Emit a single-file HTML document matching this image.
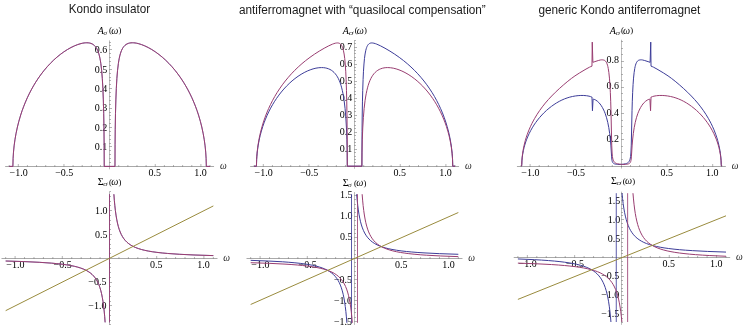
<!DOCTYPE html>
<html><head><meta charset="utf-8"><title>Kondo</title>
<style>html,body{margin:0;padding:0;background:#fff}svg{display:block;will-change:transform}</style></head>
<body>
<svg width="747" height="326" viewBox="0 0 747 326">
<rect width="747" height="326" fill="#fff"/>
<text x="68.8" y="12.9" font-family="'Liberation Sans', sans-serif" font-size="12.2" fill="#1a1a1a" textLength="81.3" lengthAdjust="spacingAndGlyphs">Kondo insulator</text>
<text x="238.9" y="14.2" font-family="'Liberation Sans', sans-serif" font-size="12.0" fill="#1a1a1a" textLength="246.9" lengthAdjust="spacingAndGlyphs">antiferromagnet with “quasilocal compensation”</text>
<text x="538.4" y="14.2" font-family="'Liberation Sans', sans-serif" font-size="12.0" fill="#1a1a1a" textLength="162" lengthAdjust="spacingAndGlyphs">generic Kondo antiferromagnet</text>
<path d="M5.15 166.5L214.05 166.5" stroke="#000" stroke-width="0.34" fill="none"/>
<path d="M9.17 166.5L9.17 165" stroke="#000" stroke-width="0.3" fill="none"/>
<path d="M18.3 166.5L18.3 164" stroke="#000" stroke-width="0.3" fill="none"/>
<text x="18.6" y="176" font-family="'Liberation Serif', serif" font-size="10" text-anchor="middle"  >−1.0</text>
<path d="M27.43 166.5L27.43 165" stroke="#000" stroke-width="0.3" fill="none"/>
<path d="M36.56 166.5L36.56 165" stroke="#000" stroke-width="0.3" fill="none"/>
<path d="M45.69 166.5L45.69 165" stroke="#000" stroke-width="0.3" fill="none"/>
<path d="M54.82 166.5L54.82 165" stroke="#000" stroke-width="0.3" fill="none"/>
<path d="M63.95 166.5L63.95 164" stroke="#000" stroke-width="0.3" fill="none"/>
<text x="64.25" y="176" font-family="'Liberation Serif', serif" font-size="10" text-anchor="middle"  >−0.5</text>
<path d="M73.08 166.5L73.08 165" stroke="#000" stroke-width="0.3" fill="none"/>
<path d="M82.21 166.5L82.21 165" stroke="#000" stroke-width="0.3" fill="none"/>
<path d="M91.34 166.5L91.34 165" stroke="#000" stroke-width="0.3" fill="none"/>
<path d="M100.47 166.5L100.47 165" stroke="#000" stroke-width="0.3" fill="none"/>
<path d="M118.73 166.5L118.73 165" stroke="#000" stroke-width="0.3" fill="none"/>
<path d="M127.86 166.5L127.86 165" stroke="#000" stroke-width="0.3" fill="none"/>
<path d="M136.99 166.5L136.99 165" stroke="#000" stroke-width="0.3" fill="none"/>
<path d="M146.12 166.5L146.12 165" stroke="#000" stroke-width="0.3" fill="none"/>
<path d="M155.25 166.5L155.25 164" stroke="#000" stroke-width="0.3" fill="none"/>
<text x="154.85" y="176" font-family="'Liberation Serif', serif" font-size="10" text-anchor="middle"  >0.5</text>
<path d="M164.38 166.5L164.38 165" stroke="#000" stroke-width="0.3" fill="none"/>
<path d="M173.51 166.5L173.51 165" stroke="#000" stroke-width="0.3" fill="none"/>
<path d="M182.64 166.5L182.64 165" stroke="#000" stroke-width="0.3" fill="none"/>
<path d="M191.77 166.5L191.77 165" stroke="#000" stroke-width="0.3" fill="none"/>
<path d="M200.9 166.5L200.9 164" stroke="#000" stroke-width="0.3" fill="none"/>
<text x="200.5" y="176" font-family="'Liberation Serif', serif" font-size="10" text-anchor="middle"  >1.0</text>
<path d="M210.03 166.5L210.03 165" stroke="#000" stroke-width="0.3" fill="none"/>
<text x="223.25" y="168.7" font-family="'Liberation Serif', serif" font-size="9.5" text-anchor="middle" font-style="italic" style="fill:#222">ω</text>
<path d="M109.5 169.31L109.5 40.36" stroke="#000" stroke-width="0.27" fill="none"/>
<path d="M109.5 162.5L111 162.5" stroke="#000" stroke-width="0.3" fill="none"/>
<path d="M109.5 158.5L111 158.5" stroke="#000" stroke-width="0.3" fill="none"/>
<path d="M109.5 154.5L111 154.5" stroke="#000" stroke-width="0.3" fill="none"/>
<path d="M109.5 150.5L111 150.5" stroke="#000" stroke-width="0.3" fill="none"/>
<path d="M109.5 146.5L112 146.5" stroke="#000" stroke-width="0.3" fill="none"/>
<text x="107.2" y="150.28" font-family="'Liberation Serif', serif" font-size="10" text-anchor="end"  >0.1</text>
<path d="M109.5 143.5L111 143.5" stroke="#000" stroke-width="0.3" fill="none"/>
<path d="M109.5 139.5L111 139.5" stroke="#000" stroke-width="0.3" fill="none"/>
<path d="M109.5 135.5L111 135.5" stroke="#000" stroke-width="0.3" fill="none"/>
<path d="M109.5 131.5L111 131.5" stroke="#000" stroke-width="0.3" fill="none"/>
<path d="M109.5 127.5L112 127.5" stroke="#000" stroke-width="0.3" fill="none"/>
<text x="107.2" y="130.86" font-family="'Liberation Serif', serif" font-size="10" text-anchor="end"  >0.2</text>
<path d="M109.5 123.5L111 123.5" stroke="#000" stroke-width="0.3" fill="none"/>
<path d="M109.5 119.5L111 119.5" stroke="#000" stroke-width="0.3" fill="none"/>
<path d="M109.5 115.5L111 115.5" stroke="#000" stroke-width="0.3" fill="none"/>
<path d="M109.5 112.5L111 112.5" stroke="#000" stroke-width="0.3" fill="none"/>
<path d="M109.5 108.5L112 108.5" stroke="#000" stroke-width="0.3" fill="none"/>
<text x="107.2" y="111.44" font-family="'Liberation Serif', serif" font-size="10" text-anchor="end"  >0.3</text>
<path d="M109.5 104.5L111 104.5" stroke="#000" stroke-width="0.3" fill="none"/>
<path d="M109.5 100.5L111 100.5" stroke="#000" stroke-width="0.3" fill="none"/>
<path d="M109.5 96.5L111 96.5" stroke="#000" stroke-width="0.3" fill="none"/>
<path d="M109.5 92.5L111 92.5" stroke="#000" stroke-width="0.3" fill="none"/>
<path d="M109.5 88.5L112 88.5" stroke="#000" stroke-width="0.3" fill="none"/>
<text x="107.2" y="92.02" font-family="'Liberation Serif', serif" font-size="10" text-anchor="end"  >0.4</text>
<path d="M109.5 84.5L111 84.5" stroke="#000" stroke-width="0.3" fill="none"/>
<path d="M109.5 80.5L111 80.5" stroke="#000" stroke-width="0.3" fill="none"/>
<path d="M109.5 77.5L111 77.5" stroke="#000" stroke-width="0.3" fill="none"/>
<path d="M109.5 73.5L111 73.5" stroke="#000" stroke-width="0.3" fill="none"/>
<path d="M109.5 69.5L112 69.5" stroke="#000" stroke-width="0.3" fill="none"/>
<text x="107.2" y="72.6" font-family="'Liberation Serif', serif" font-size="10" text-anchor="end"  >0.5</text>
<path d="M109.5 65.5L111 65.5" stroke="#000" stroke-width="0.3" fill="none"/>
<path d="M109.5 61.5L111 61.5" stroke="#000" stroke-width="0.3" fill="none"/>
<path d="M109.5 57.5L111 57.5" stroke="#000" stroke-width="0.3" fill="none"/>
<path d="M109.5 53.5L111 53.5" stroke="#000" stroke-width="0.3" fill="none"/>
<path d="M109.5 49.5L112 49.5" stroke="#000" stroke-width="0.3" fill="none"/>
<text x="107.2" y="53.18" font-family="'Liberation Serif', serif" font-size="10" text-anchor="end"  >0.6</text>
<path d="M109.5 45.5L111 45.5" stroke="#000" stroke-width="0.3" fill="none"/>
<path d="M109.5 42.5L111 42.5" stroke="#000" stroke-width="0.3" fill="none"/>
<text x="97.85" y="33.5" font-family="'Liberation Serif', serif" font-size="10" font-style="italic">A</text>
<text transform="translate(103.5 34.6) scale(1.15 1)" font-family="'Liberation Serif', serif" font-size="6.2" font-style="italic" style="fill:#333">σ</text>
<text x="109.1" y="33.1" font-family="'Liberation Serif', serif" font-size="8.7">(</text>
<text x="111.2" y="33.5" font-family="'Liberation Serif', serif" font-size="10" font-style="italic">ω</text>
<text x="118.5" y="33.1" font-family="'Liberation Serif', serif" font-size="8.7">)</text>
<path d="M9.17 166.4L12.88 166.4L13.08 158.63L13.49 152.07L14.11 145.86L14.94 139.79L15.97 133.81L17.41 127.01L18.85 121.31L20.7 115L22.14 110.67L23.79 106.18L25.44 102.08L27.29 97.84L29.15 93.95L31.21 89.95L33.47 85.89L35.74 82.14L38.41 78.05L41.3 74.02L44.18 70.32L47.27 66.68L50.36 63.36L53.65 60.11L56.95 57.16L60.24 54.49L63.74 51.93L67.45 49.53L70.95 47.56L74.45 45.87L77.75 44.56L81.04 43.56L82.69 43.19L84.13 42.95L85.57 42.81L86.81 42.77L88.25 42.84L89.69 43.06L90.93 43.4L92.19 43.94L93.29 44.59L94.29 45.4L95.24 46.38L96.09 47.52L96.88 48.84L97.58 50.28L98.25 51.97L98.86 53.85L99.41 55.9L99.93 58.22L100.42 60.86L100.84 63.62L101.64 70.31L102.31 78.39L102.88 88.43L103.34 99.91L103.71 113.45L103.98 129.28L104.13 144.25L104.22 166.4L114.98 166.4L115.07 144.25L115.22 129.28L115.49 113.45L115.86 99.91L116.32 88.43L116.89 78.39L117.56 70.31L118.36 63.62L118.78 60.86L119.27 58.22L119.79 55.9L120.34 53.85L120.95 51.97L121.62 50.28L122.32 48.84L123.11 47.52L123.96 46.38L124.91 45.4L125.91 44.59L127.01 43.94L128.27 43.4L129.51 43.06L130.95 42.84L132.39 42.77L133.63 42.81L135.07 42.95L136.51 43.19L138.16 43.56L141.45 44.56L144.75 45.87L148.25 47.56L151.75 49.53L155.46 51.93L158.96 54.49L162.25 57.16L165.55 60.11L168.84 63.36L171.93 66.68L175.02 70.32L177.9 74.02L180.79 78.05L183.46 82.14L185.73 85.89L187.99 89.95L190.05 93.95L191.91 97.84L193.76 102.08L195.41 106.18L197.06 110.67L198.5 115L200.35 121.31L201.79 127.01L203.23 133.81L204.26 139.79L205.09 145.86L205.71 152.07L206.12 158.63L206.32 166.4L210.03 166.4" fill="none" stroke="#3D3D99" stroke-width="0.6" stroke-linejoin="round" />
<path d="M9.17 166.4L12.88 166.4L13.08 158.63L13.49 152.07L14.11 145.86L14.94 139.79L15.97 133.81L17.41 127.01L18.85 121.31L20.7 115L22.14 110.67L23.79 106.18L25.44 102.08L27.29 97.84L29.15 93.95L31.21 89.95L33.47 85.89L35.74 82.14L38.41 78.05L41.3 74.02L44.18 70.32L47.27 66.68L50.36 63.36L53.65 60.11L56.95 57.16L60.24 54.49L63.74 51.93L67.45 49.53L70.95 47.56L74.45 45.87L77.75 44.56L81.04 43.56L82.69 43.19L84.13 42.95L85.57 42.81L86.81 42.77L88.25 42.84L89.69 43.06L90.93 43.4L92.19 43.94L93.29 44.59L94.29 45.4L95.24 46.38L96.09 47.52L96.88 48.84L97.58 50.28L98.25 51.97L98.86 53.85L99.41 55.9L99.93 58.22L100.42 60.86L100.84 63.62L101.64 70.31L102.31 78.39L102.88 88.43L103.34 99.91L103.71 113.45L103.98 129.28L104.13 144.25L104.22 166.4L114.98 166.4L115.07 144.25L115.22 129.28L115.49 113.45L115.86 99.91L116.32 88.43L116.89 78.39L117.56 70.31L118.36 63.62L118.78 60.86L119.27 58.22L119.79 55.9L120.34 53.85L120.95 51.97L121.62 50.28L122.32 48.84L123.11 47.52L123.96 46.38L124.91 45.4L125.91 44.59L127.01 43.94L128.27 43.4L129.51 43.06L130.95 42.84L132.39 42.77L133.63 42.81L135.07 42.95L136.51 43.19L138.16 43.56L141.45 44.56L144.75 45.87L148.25 47.56L151.75 49.53L155.46 51.93L158.96 54.49L162.25 57.16L165.55 60.11L168.84 63.36L171.93 66.68L175.02 70.32L177.9 74.02L180.79 78.05L183.46 82.14L185.73 85.89L187.99 89.95L190.05 93.95L191.91 97.84L193.76 102.08L195.41 106.18L197.06 110.67L198.5 115L200.35 121.31L201.79 127.01L203.23 133.81L204.26 139.79L205.09 145.86L205.71 152.07L206.12 158.63L206.32 166.4L210.03 166.4" fill="none" stroke="#993D71" stroke-width="1.0" stroke-linejoin="round" />
<path d="M1.51 258.5L217.49 258.5" stroke="#000" stroke-width="0.34" fill="none"/>
<path d="M5.66 258.5L5.66 257" stroke="#000" stroke-width="0.3" fill="none"/>
<path d="M15.1 258.5L15.1 256" stroke="#000" stroke-width="0.3" fill="none"/>
<text x="15.4" y="268" font-family="'Liberation Serif', serif" font-size="10" text-anchor="middle"  >−1.0</text>
<path d="M24.54 258.5L24.54 257" stroke="#000" stroke-width="0.3" fill="none"/>
<path d="M33.98 258.5L33.98 257" stroke="#000" stroke-width="0.3" fill="none"/>
<path d="M43.42 258.5L43.42 257" stroke="#000" stroke-width="0.3" fill="none"/>
<path d="M52.86 258.5L52.86 257" stroke="#000" stroke-width="0.3" fill="none"/>
<path d="M62.3 258.5L62.3 256" stroke="#000" stroke-width="0.3" fill="none"/>
<text x="62.6" y="268" font-family="'Liberation Serif', serif" font-size="10" text-anchor="middle"  >−0.5</text>
<path d="M71.74 258.5L71.74 257" stroke="#000" stroke-width="0.3" fill="none"/>
<path d="M81.18 258.5L81.18 257" stroke="#000" stroke-width="0.3" fill="none"/>
<path d="M90.62 258.5L90.62 257" stroke="#000" stroke-width="0.3" fill="none"/>
<path d="M100.06 258.5L100.06 257" stroke="#000" stroke-width="0.3" fill="none"/>
<path d="M118.94 258.5L118.94 257" stroke="#000" stroke-width="0.3" fill="none"/>
<path d="M128.38 258.5L128.38 257" stroke="#000" stroke-width="0.3" fill="none"/>
<path d="M137.82 258.5L137.82 257" stroke="#000" stroke-width="0.3" fill="none"/>
<path d="M147.26 258.5L147.26 257" stroke="#000" stroke-width="0.3" fill="none"/>
<path d="M156.7 258.5L156.7 256" stroke="#000" stroke-width="0.3" fill="none"/>
<text x="156.3" y="268" font-family="'Liberation Serif', serif" font-size="10" text-anchor="middle"  >0.5</text>
<path d="M166.14 258.5L166.14 257" stroke="#000" stroke-width="0.3" fill="none"/>
<path d="M175.58 258.5L175.58 257" stroke="#000" stroke-width="0.3" fill="none"/>
<path d="M185.02 258.5L185.02 257" stroke="#000" stroke-width="0.3" fill="none"/>
<path d="M194.46 258.5L194.46 257" stroke="#000" stroke-width="0.3" fill="none"/>
<path d="M203.9 258.5L203.9 256" stroke="#000" stroke-width="0.3" fill="none"/>
<text x="203.5" y="268" font-family="'Liberation Serif', serif" font-size="10" text-anchor="middle"  >1.0</text>
<path d="M213.34 258.5L213.34 257" stroke="#000" stroke-width="0.3" fill="none"/>
<text x="226.69" y="260.7" font-family="'Liberation Serif', serif" font-size="9.5" text-anchor="middle" font-style="italic" style="fill:#222">ω</text>
<path d="M109.5 324.94L109.5 191.66" stroke="#000" stroke-width="0.27" fill="none"/>
<path d="M109.5 324.5L111 324.5" stroke="#000" stroke-width="0.3" fill="none"/>
<path d="M109.5 320.5L111 320.5" stroke="#000" stroke-width="0.3" fill="none"/>
<path d="M109.5 315.5L111 315.5" stroke="#000" stroke-width="0.3" fill="none"/>
<path d="M109.5 310.5L111 310.5" stroke="#000" stroke-width="0.3" fill="none"/>
<path d="M109.5 305.5L112 305.5" stroke="#000" stroke-width="0.3" fill="none"/>
<text x="106.4" y="308.9" font-family="'Liberation Serif', serif" font-size="10" text-anchor="end"  >−1.0</text>
<path d="M109.5 301.5L111 301.5" stroke="#000" stroke-width="0.3" fill="none"/>
<path d="M109.5 296.5L111 296.5" stroke="#000" stroke-width="0.3" fill="none"/>
<path d="M109.5 291.5L111 291.5" stroke="#000" stroke-width="0.3" fill="none"/>
<path d="M109.5 286.5L111 286.5" stroke="#000" stroke-width="0.3" fill="none"/>
<path d="M109.5 282.5L112 282.5" stroke="#000" stroke-width="0.3" fill="none"/>
<text x="106.4" y="285.1" font-family="'Liberation Serif', serif" font-size="10" text-anchor="end"  >−0.5</text>
<path d="M109.5 277.5L111 277.5" stroke="#000" stroke-width="0.3" fill="none"/>
<path d="M109.5 272.5L111 272.5" stroke="#000" stroke-width="0.3" fill="none"/>
<path d="M109.5 267.5L111 267.5" stroke="#000" stroke-width="0.3" fill="none"/>
<path d="M109.5 263.5L111 263.5" stroke="#000" stroke-width="0.3" fill="none"/>
<path d="M109.5 253.5L111 253.5" stroke="#000" stroke-width="0.3" fill="none"/>
<path d="M109.5 248.5L111 248.5" stroke="#000" stroke-width="0.3" fill="none"/>
<path d="M109.5 244.5L111 244.5" stroke="#000" stroke-width="0.3" fill="none"/>
<path d="M109.5 239.5L111 239.5" stroke="#000" stroke-width="0.3" fill="none"/>
<path d="M109.5 234.5L112 234.5" stroke="#000" stroke-width="0.3" fill="none"/>
<text x="107.4" y="237.5" font-family="'Liberation Serif', serif" font-size="10" text-anchor="end"  >0.5</text>
<path d="M109.5 229.5L111 229.5" stroke="#000" stroke-width="0.3" fill="none"/>
<path d="M109.5 224.5L111 224.5" stroke="#000" stroke-width="0.3" fill="none"/>
<path d="M109.5 220.5L111 220.5" stroke="#000" stroke-width="0.3" fill="none"/>
<path d="M109.5 215.5L111 215.5" stroke="#000" stroke-width="0.3" fill="none"/>
<path d="M109.5 210.5L112 210.5" stroke="#000" stroke-width="0.3" fill="none"/>
<text x="107.4" y="213.7" font-family="'Liberation Serif', serif" font-size="10" text-anchor="end"  >1.0</text>
<path d="M109.5 205.5L111 205.5" stroke="#000" stroke-width="0.3" fill="none"/>
<path d="M109.5 201.5L111 201.5" stroke="#000" stroke-width="0.3" fill="none"/>
<path d="M109.5 196.5L111 196.5" stroke="#000" stroke-width="0.3" fill="none"/>
<path d="M109.5 191.5L111 191.5" stroke="#000" stroke-width="0.3" fill="none"/>
<text x="97.8" y="185.2" font-family="'Liberation Serif', serif" font-size="10">Σ</text>
<text transform="translate(103 186.3) scale(1.55 1)" font-family="'Liberation Serif', serif" font-size="6.2" font-style="italic" style="fill:#333">σ</text>
<text x="109.1" y="184.8" font-family="'Liberation Serif', serif" font-size="8.7">(</text>
<text x="111.2" y="185.2" font-family="'Liberation Serif', serif" font-size="10" font-style="italic">ω</text>
<text x="118.5" y="184.8" font-family="'Liberation Serif', serif" font-size="8.7">)</text>
<path d="M5.66 261L23.97 261.58L39.22 262.3L51.43 263.14L56.77 263.63L62.11 264.23L66.69 264.86L70.5 265.5L74.31 266.28L77.37 267.04L80.42 267.96L83.31 269.02L85.86 270.18L88.17 271.47L90.19 272.84L92 274.35L93.64 276.01L95.14 277.85L96.48 279.87L97.71 282.11L98.82 284.6L99.82 287.31L100.73 290.31L101.56 293.66L102.31 297.38L102.99 301.46L103.62 306.04L104.16 310.94L104.66 316.27L105.12 322.37" fill="none" stroke="#3D3D99" stroke-width="0.6" stroke-linejoin="round" />
<path d="M113.88 194.23L114.34 200.33L114.84 205.66L115.38 210.56L116.01 215.14L116.69 219.22L117.44 222.94L118.27 226.29L119.18 229.29L120.18 232L121.29 234.49L122.52 236.73L123.86 238.75L125.36 240.59L127 242.25L128.81 243.76L130.83 245.13L133.14 246.42L135.69 247.58L138.58 248.64L141.63 249.56L144.69 250.32L148.5 251.1L152.31 251.74L156.89 252.37L162.23 252.97L167.57 253.46L179.78 254.3L195.03 255.02L213.34 255.6" fill="none" stroke="#3D3D99" stroke-width="0.6" stroke-linejoin="round" />
<path d="M109.5 322.37L109.5 194.23" fill="none" stroke="#3D3D99" stroke-width="0.51" stroke-linejoin="round" />
<path d="M5.66 261L23.97 261.58L39.22 262.3L51.43 263.14L56.77 263.63L62.11 264.23L66.69 264.86L70.5 265.5L74.31 266.28L77.37 267.04L80.42 267.96L83.31 269.02L85.86 270.18L88.17 271.47L90.19 272.84L92 274.35L93.64 276.01L95.14 277.85L96.48 279.87L97.71 282.11L98.82 284.6L99.82 287.31L100.73 290.31L101.56 293.66L102.31 297.38L102.99 301.46L103.62 306.04L104.16 310.94L104.66 316.27L105.12 322.37" fill="none" stroke="#993D71" stroke-width="1.0" stroke-linejoin="round" />
<path d="M113.88 194.23L114.34 200.33L114.84 205.66L115.38 210.56L116.01 215.14L116.69 219.22L117.44 222.94L118.27 226.29L119.18 229.29L120.18 232L121.29 234.49L122.52 236.73L123.86 238.75L125.36 240.59L127 242.25L128.81 243.76L130.83 245.13L133.14 246.42L135.69 247.58L138.58 248.64L141.63 249.56L144.69 250.32L148.5 251.1L152.31 251.74L156.89 252.37L162.23 252.97L167.57 253.46L179.78 254.3L195.03 255.02L213.34 255.6" fill="none" stroke="#993D71" stroke-width="1.0" stroke-linejoin="round" />
<path d="M109.5 322.37L109.5 194.23" fill="none" stroke="#993D71" stroke-width="0.85" stroke-linejoin="round" />
<path d="M5.66 310.66L213.34 205.94" fill="none" stroke="#998B3D" stroke-width="1.0" stroke-linejoin="round" />
<path d="M250.15 166.5L459.05 166.5" stroke="#000" stroke-width="0.34" fill="none"/>
<path d="M254.17 166.5L254.17 165" stroke="#000" stroke-width="0.3" fill="none"/>
<path d="M263.3 166.5L263.3 164" stroke="#000" stroke-width="0.3" fill="none"/>
<text x="263.6" y="176" font-family="'Liberation Serif', serif" font-size="10" text-anchor="middle"  >−1.0</text>
<path d="M272.43 166.5L272.43 165" stroke="#000" stroke-width="0.3" fill="none"/>
<path d="M281.56 166.5L281.56 165" stroke="#000" stroke-width="0.3" fill="none"/>
<path d="M290.69 166.5L290.69 165" stroke="#000" stroke-width="0.3" fill="none"/>
<path d="M299.82 166.5L299.82 165" stroke="#000" stroke-width="0.3" fill="none"/>
<path d="M308.95 166.5L308.95 164" stroke="#000" stroke-width="0.3" fill="none"/>
<text x="309.25" y="176" font-family="'Liberation Serif', serif" font-size="10" text-anchor="middle"  >−0.5</text>
<path d="M318.08 166.5L318.08 165" stroke="#000" stroke-width="0.3" fill="none"/>
<path d="M327.21 166.5L327.21 165" stroke="#000" stroke-width="0.3" fill="none"/>
<path d="M336.34 166.5L336.34 165" stroke="#000" stroke-width="0.3" fill="none"/>
<path d="M345.47 166.5L345.47 165" stroke="#000" stroke-width="0.3" fill="none"/>
<path d="M363.73 166.5L363.73 165" stroke="#000" stroke-width="0.3" fill="none"/>
<path d="M372.86 166.5L372.86 165" stroke="#000" stroke-width="0.3" fill="none"/>
<path d="M381.99 166.5L381.99 165" stroke="#000" stroke-width="0.3" fill="none"/>
<path d="M391.12 166.5L391.12 165" stroke="#000" stroke-width="0.3" fill="none"/>
<path d="M400.25 166.5L400.25 164" stroke="#000" stroke-width="0.3" fill="none"/>
<text x="399.85" y="176" font-family="'Liberation Serif', serif" font-size="10" text-anchor="middle"  >0.5</text>
<path d="M409.38 166.5L409.38 165" stroke="#000" stroke-width="0.3" fill="none"/>
<path d="M418.51 166.5L418.51 165" stroke="#000" stroke-width="0.3" fill="none"/>
<path d="M427.64 166.5L427.64 165" stroke="#000" stroke-width="0.3" fill="none"/>
<path d="M436.77 166.5L436.77 165" stroke="#000" stroke-width="0.3" fill="none"/>
<path d="M445.9 166.5L445.9 164" stroke="#000" stroke-width="0.3" fill="none"/>
<text x="445.5" y="176" font-family="'Liberation Serif', serif" font-size="10" text-anchor="middle"  >1.0</text>
<path d="M455.03 166.5L455.03 165" stroke="#000" stroke-width="0.3" fill="none"/>
<text x="468.25" y="168.7" font-family="'Liberation Serif', serif" font-size="9.5" text-anchor="middle" font-style="italic" style="fill:#222">ω</text>
<path d="M354.5 168.75L354.5 40.3" stroke="#000" stroke-width="0.27" fill="none"/>
<path d="M354.5 162.5L356 162.5" stroke="#000" stroke-width="0.3" fill="none"/>
<path d="M354.5 159.5L356 159.5" stroke="#000" stroke-width="0.3" fill="none"/>
<path d="M354.5 156.5L356 156.5" stroke="#000" stroke-width="0.3" fill="none"/>
<path d="M354.5 152.5L356 152.5" stroke="#000" stroke-width="0.3" fill="none"/>
<path d="M354.5 149.5L357 149.5" stroke="#000" stroke-width="0.3" fill="none"/>
<text x="352.2" y="151.9" font-family="'Liberation Serif', serif" font-size="10" text-anchor="end"  >0.1</text>
<path d="M354.5 145.5L356 145.5" stroke="#000" stroke-width="0.3" fill="none"/>
<path d="M354.5 142.5L356 142.5" stroke="#000" stroke-width="0.3" fill="none"/>
<path d="M354.5 139.5L356 139.5" stroke="#000" stroke-width="0.3" fill="none"/>
<path d="M354.5 135.5L356 135.5" stroke="#000" stroke-width="0.3" fill="none"/>
<path d="M354.5 132.5L357 132.5" stroke="#000" stroke-width="0.3" fill="none"/>
<text x="352.2" y="134.9" font-family="'Liberation Serif', serif" font-size="10" text-anchor="end"  >0.2</text>
<path d="M354.5 128.5L356 128.5" stroke="#000" stroke-width="0.3" fill="none"/>
<path d="M354.5 125.5L356 125.5" stroke="#000" stroke-width="0.3" fill="none"/>
<path d="M354.5 121.5L356 121.5" stroke="#000" stroke-width="0.3" fill="none"/>
<path d="M354.5 118.5L356 118.5" stroke="#000" stroke-width="0.3" fill="none"/>
<path d="M354.5 115.5L357 115.5" stroke="#000" stroke-width="0.3" fill="none"/>
<text x="352.2" y="117.9" font-family="'Liberation Serif', serif" font-size="10" text-anchor="end"  >0.3</text>
<path d="M354.5 111.5L356 111.5" stroke="#000" stroke-width="0.3" fill="none"/>
<path d="M354.5 108.5L356 108.5" stroke="#000" stroke-width="0.3" fill="none"/>
<path d="M354.5 105.5L356 105.5" stroke="#000" stroke-width="0.3" fill="none"/>
<path d="M354.5 101.5L356 101.5" stroke="#000" stroke-width="0.3" fill="none"/>
<path d="M354.5 98.5L357 98.5" stroke="#000" stroke-width="0.3" fill="none"/>
<text x="352.2" y="100.9" font-family="'Liberation Serif', serif" font-size="10" text-anchor="end"  >0.4</text>
<path d="M354.5 94.5L356 94.5" stroke="#000" stroke-width="0.3" fill="none"/>
<path d="M354.5 91.5L356 91.5" stroke="#000" stroke-width="0.3" fill="none"/>
<path d="M354.5 87.5L356 87.5" stroke="#000" stroke-width="0.3" fill="none"/>
<path d="M354.5 84.5L356 84.5" stroke="#000" stroke-width="0.3" fill="none"/>
<path d="M354.5 81.5L357 81.5" stroke="#000" stroke-width="0.3" fill="none"/>
<text x="352.2" y="83.9" font-family="'Liberation Serif', serif" font-size="10" text-anchor="end"  >0.5</text>
<path d="M354.5 77.5L356 77.5" stroke="#000" stroke-width="0.3" fill="none"/>
<path d="M354.5 74.5L356 74.5" stroke="#000" stroke-width="0.3" fill="none"/>
<path d="M354.5 70.5L356 70.5" stroke="#000" stroke-width="0.3" fill="none"/>
<path d="M354.5 67.5L356 67.5" stroke="#000" stroke-width="0.3" fill="none"/>
<path d="M354.5 64.5L357 64.5" stroke="#000" stroke-width="0.3" fill="none"/>
<text x="352.2" y="66.9" font-family="'Liberation Serif', serif" font-size="10" text-anchor="end"  >0.6</text>
<path d="M354.5 60.5L356 60.5" stroke="#000" stroke-width="0.3" fill="none"/>
<path d="M354.5 57.5L356 57.5" stroke="#000" stroke-width="0.3" fill="none"/>
<path d="M354.5 53.5L356 53.5" stroke="#000" stroke-width="0.3" fill="none"/>
<path d="M354.5 50.5L356 50.5" stroke="#000" stroke-width="0.3" fill="none"/>
<path d="M354.5 47.5L357 47.5" stroke="#000" stroke-width="0.3" fill="none"/>
<text x="352.2" y="49.9" font-family="'Liberation Serif', serif" font-size="10" text-anchor="end"  >0.7</text>
<path d="M354.5 43.5L356 43.5" stroke="#000" stroke-width="0.3" fill="none"/>
<path d="M354.5 40.5L356 40.5" stroke="#000" stroke-width="0.3" fill="none"/>
<text x="342.85" y="33.5" font-family="'Liberation Serif', serif" font-size="10" font-style="italic">A</text>
<text transform="translate(348.5 34.6) scale(1.7 1)" font-family="'Liberation Serif', serif" font-size="6.2" font-style="italic" style="fill:#333">σ</text>
<text x="354.7" y="33.1" font-family="'Liberation Serif', serif" font-size="8.7">(</text>
<text x="356.8" y="33.5" font-family="'Liberation Serif', serif" font-size="10" font-style="italic">ω</text>
<text x="364.1" y="33.1" font-family="'Liberation Serif', serif" font-size="8.7">)</text>
<path d="M254.17 166.2L256.44 166.2L256.64 159.73L256.85 156.45L257.26 152.01L258.08 145.9L259.11 140.26L260.14 135.7L261.38 131.06L262.82 126.39L264.06 122.84L265.5 119.11L267.14 115.25L268.79 111.74L270.65 108.12L272.5 104.81L274.35 101.75L276.41 98.61L278.88 95.14L281.35 91.97L283.83 89.06L286.5 86.17L289.18 83.52L292.06 80.92L294.95 78.57L298.04 76.31L301.12 74.31L304.21 72.55L307.3 71.03L310.19 69.85L313.07 68.89L315.95 68.17L318.84 67.72L321.51 67.58L323.37 67.65L325.22 67.89L326.87 68.26L328.51 68.8L329.96 69.44L331.4 70.27L332.84 71.33L334.07 72.44L335.31 73.8L336.4 75.24L337.44 76.86L338.41 78.67L339.32 80.67L340.18 82.87L340.97 85.27L341.7 87.86L342.37 90.64L343.01 93.74L343.59 97.02L344.14 100.66L345.08 108.67L345.84 117.68L346.45 127.98L346.91 139.77L347.18 152.17L347.31 166.2L361.89 166.2L362.05 131.69L362.2 116.99L362.44 101.88L362.72 90.33L363.08 79.52L363.48 71.24L363.97 63.99L364.48 58.53L365.09 53.99L365.82 50.26L366.22 48.78L366.65 47.49L367.1 46.39L367.62 45.42L368.17 44.64L368.75 44.03L369.39 43.55L370.12 43.2L370.91 43L371.79 42.93L372.77 43L373.89 43.21L375.33 43.63L376.77 44.17L380.48 45.84L385.01 48.24L389.95 51.13L394.69 54.17L399.22 57.33L403.55 60.62L407.25 63.67L410.96 66.97L414.46 70.35L417.75 73.78L420.84 77.25L423.93 80.99L426.82 84.78L429.7 88.88L432.17 92.7L434.44 96.48L436.7 100.57L438.76 104.63L440.61 108.6L442.47 112.96L444.12 117.23L445.76 121.99L447.2 126.7L448.65 132.14L449.88 137.69L450.91 143.38L451.53 147.66L452.15 153.32L452.56 159.36L452.76 166.2L455.03 166.2" fill="none" stroke="#3D3D99" stroke-width="1.0" stroke-linejoin="round" />
<path d="M254.17 166.2L256.44 166.2L256.64 159.36L257.05 153.32L257.67 147.66L258.29 143.38L259.32 137.69L260.55 132.14L262 126.7L263.44 121.99L265.08 117.23L266.73 112.96L268.59 108.6L270.44 104.63L272.5 100.57L274.76 96.48L277.03 92.7L279.5 88.88L282.38 84.78L285.27 80.99L288.36 77.25L291.45 73.78L294.74 70.35L298.24 66.97L301.95 63.67L305.65 60.62L309.98 57.33L314.51 54.17L319.25 51.13L324.19 48.24L328.72 45.84L332.43 44.17L333.87 43.63L335.31 43.21L336.43 43L337.41 42.93L338.29 43L339.08 43.2L339.81 43.55L340.45 44.03L341.03 44.64L341.58 45.42L342.1 46.39L342.55 47.49L342.98 48.78L343.38 50.26L344.11 53.99L344.72 58.53L345.23 63.99L345.72 71.24L346.12 79.52L346.48 90.33L346.76 101.88L347 116.99L347.15 131.69L347.31 166.2L361.89 166.2L362.02 152.17L362.29 139.77L362.75 127.98L363.36 117.68L364.12 108.67L365.06 100.66L365.61 97.02L366.19 93.74L366.83 90.64L367.5 87.86L368.23 85.27L369.02 82.87L369.88 80.67L370.79 78.67L371.76 76.86L372.8 75.24L373.89 73.8L375.13 72.44L376.36 71.33L377.8 70.27L379.24 69.44L380.69 68.8L382.33 68.26L383.98 67.89L385.83 67.65L387.69 67.58L390.36 67.72L393.25 68.17L396.13 68.89L399.01 69.85L401.9 71.03L404.99 72.55L408.08 74.31L411.16 76.31L414.25 78.57L417.14 80.92L420.02 83.52L422.7 86.17L425.37 89.06L427.85 91.97L430.32 95.14L432.79 98.61L434.85 101.75L436.7 104.81L438.55 108.12L440.41 111.74L442.06 115.25L443.7 119.11L445.14 122.84L446.38 126.39L447.82 131.06L449.06 135.7L450.09 140.26L451.12 145.9L451.94 152.01L452.35 156.45L452.56 159.73L452.76 166.2L455.03 166.2" fill="none" stroke="#993D71" stroke-width="1.0" stroke-linejoin="round" />
<path d="M246.51 258.5L462.49 258.5" stroke="#000" stroke-width="0.34" fill="none"/>
<path d="M250.66 258.5L250.66 257" stroke="#000" stroke-width="0.3" fill="none"/>
<path d="M260.1 258.5L260.1 256" stroke="#000" stroke-width="0.3" fill="none"/>
<text x="260.4" y="268" font-family="'Liberation Serif', serif" font-size="10" text-anchor="middle"  >−1.0</text>
<path d="M269.54 258.5L269.54 257" stroke="#000" stroke-width="0.3" fill="none"/>
<path d="M278.98 258.5L278.98 257" stroke="#000" stroke-width="0.3" fill="none"/>
<path d="M288.42 258.5L288.42 257" stroke="#000" stroke-width="0.3" fill="none"/>
<path d="M297.86 258.5L297.86 257" stroke="#000" stroke-width="0.3" fill="none"/>
<path d="M307.3 258.5L307.3 256" stroke="#000" stroke-width="0.3" fill="none"/>
<text x="307.6" y="268" font-family="'Liberation Serif', serif" font-size="10" text-anchor="middle"  >−0.5</text>
<path d="M316.74 258.5L316.74 257" stroke="#000" stroke-width="0.3" fill="none"/>
<path d="M326.18 258.5L326.18 257" stroke="#000" stroke-width="0.3" fill="none"/>
<path d="M335.62 258.5L335.62 257" stroke="#000" stroke-width="0.3" fill="none"/>
<path d="M345.06 258.5L345.06 257" stroke="#000" stroke-width="0.3" fill="none"/>
<path d="M363.94 258.5L363.94 257" stroke="#000" stroke-width="0.3" fill="none"/>
<path d="M373.38 258.5L373.38 257" stroke="#000" stroke-width="0.3" fill="none"/>
<path d="M382.82 258.5L382.82 257" stroke="#000" stroke-width="0.3" fill="none"/>
<path d="M392.26 258.5L392.26 257" stroke="#000" stroke-width="0.3" fill="none"/>
<path d="M401.7 258.5L401.7 256" stroke="#000" stroke-width="0.3" fill="none"/>
<text x="401.3" y="268" font-family="'Liberation Serif', serif" font-size="10" text-anchor="middle"  >0.5</text>
<path d="M411.14 258.5L411.14 257" stroke="#000" stroke-width="0.3" fill="none"/>
<path d="M420.58 258.5L420.58 257" stroke="#000" stroke-width="0.3" fill="none"/>
<path d="M430.02 258.5L430.02 257" stroke="#000" stroke-width="0.3" fill="none"/>
<path d="M439.46 258.5L439.46 257" stroke="#000" stroke-width="0.3" fill="none"/>
<path d="M448.9 258.5L448.9 256" stroke="#000" stroke-width="0.3" fill="none"/>
<text x="448.5" y="268" font-family="'Liberation Serif', serif" font-size="10" text-anchor="middle"  >1.0</text>
<path d="M458.34 258.5L458.34 257" stroke="#000" stroke-width="0.3" fill="none"/>
<text x="471.69" y="260.7" font-family="'Liberation Serif', serif" font-size="9.5" text-anchor="middle" font-style="italic" style="fill:#222">ω</text>
<path d="M354.5 324.88L354.5 192.12" stroke="#000" stroke-width="0.27" fill="none"/>
<path d="M354.5 321.5L357 321.5" stroke="#000" stroke-width="0.3" fill="none"/>
<text x="352.1" y="324.5" font-family="'Liberation Serif', serif" font-size="10" text-anchor="end"  >−1.5</text>
<path d="M354.5 317.5L356 317.5" stroke="#000" stroke-width="0.3" fill="none"/>
<path d="M354.5 312.5L356 312.5" stroke="#000" stroke-width="0.3" fill="none"/>
<path d="M354.5 308.5L356 308.5" stroke="#000" stroke-width="0.3" fill="none"/>
<path d="M354.5 304.5L356 304.5" stroke="#000" stroke-width="0.3" fill="none"/>
<path d="M354.5 300.5L357 300.5" stroke="#000" stroke-width="0.3" fill="none"/>
<text x="352.1" y="303.6" font-family="'Liberation Serif', serif" font-size="10" text-anchor="end"  >−1.0</text>
<path d="M354.5 296.5L356 296.5" stroke="#000" stroke-width="0.3" fill="none"/>
<path d="M354.5 291.5L356 291.5" stroke="#000" stroke-width="0.3" fill="none"/>
<path d="M354.5 287.5L356 287.5" stroke="#000" stroke-width="0.3" fill="none"/>
<path d="M354.5 283.5L356 283.5" stroke="#000" stroke-width="0.3" fill="none"/>
<path d="M354.5 279.5L357 279.5" stroke="#000" stroke-width="0.3" fill="none"/>
<text x="352.1" y="282.7" font-family="'Liberation Serif', serif" font-size="10" text-anchor="end"  >−0.5</text>
<path d="M354.5 275.5L356 275.5" stroke="#000" stroke-width="0.3" fill="none"/>
<path d="M354.5 271.5L356 271.5" stroke="#000" stroke-width="0.3" fill="none"/>
<path d="M354.5 266.5L356 266.5" stroke="#000" stroke-width="0.3" fill="none"/>
<path d="M354.5 262.5L356 262.5" stroke="#000" stroke-width="0.3" fill="none"/>
<path d="M354.5 254.5L356 254.5" stroke="#000" stroke-width="0.3" fill="none"/>
<path d="M354.5 250.5L356 250.5" stroke="#000" stroke-width="0.3" fill="none"/>
<path d="M354.5 245.5L356 245.5" stroke="#000" stroke-width="0.3" fill="none"/>
<path d="M354.5 241.5L356 241.5" stroke="#000" stroke-width="0.3" fill="none"/>
<path d="M354.5 237.5L357 237.5" stroke="#000" stroke-width="0.3" fill="none"/>
<text x="352.6" y="239.6" font-family="'Liberation Serif', serif" font-size="10" text-anchor="end"  >0.5</text>
<path d="M354.5 233.5L356 233.5" stroke="#000" stroke-width="0.3" fill="none"/>
<path d="M354.5 229.5L356 229.5" stroke="#000" stroke-width="0.3" fill="none"/>
<path d="M354.5 225.5L356 225.5" stroke="#000" stroke-width="0.3" fill="none"/>
<path d="M354.5 220.5L356 220.5" stroke="#000" stroke-width="0.3" fill="none"/>
<path d="M354.5 216.5L357 216.5" stroke="#000" stroke-width="0.3" fill="none"/>
<text x="352.6" y="218.7" font-family="'Liberation Serif', serif" font-size="10" text-anchor="end"  >1.0</text>
<path d="M354.5 212.5L356 212.5" stroke="#000" stroke-width="0.3" fill="none"/>
<path d="M354.5 208.5L356 208.5" stroke="#000" stroke-width="0.3" fill="none"/>
<path d="M354.5 204.5L356 204.5" stroke="#000" stroke-width="0.3" fill="none"/>
<path d="M354.5 199.5L356 199.5" stroke="#000" stroke-width="0.3" fill="none"/>
<path d="M354.5 195.5L357 195.5" stroke="#000" stroke-width="0.3" fill="none"/>
<text x="352.6" y="197.8" font-family="'Liberation Serif', serif" font-size="10" text-anchor="end"  >1.5</text>
<text x="342.8" y="186.2" font-family="'Liberation Serif', serif" font-size="10">Σ</text>
<text transform="translate(348 187.3) scale(1.2 1)" font-family="'Liberation Serif', serif" font-size="6.2" font-style="italic" style="fill:#333">σ</text>
<text x="354.1" y="185.8" font-family="'Liberation Serif', serif" font-size="8.7">(</text>
<text x="356.2" y="186.2" font-family="'Liberation Serif', serif" font-size="10" font-style="italic">ω</text>
<text x="363.5" y="185.8" font-family="'Liberation Serif', serif" font-size="8.7">)</text>
<path d="M250.66 260.36L268.21 261.02L282.7 261.81L288.8 262.25L294.9 262.79L300.24 263.37L304.82 263.97L308.63 264.56L312.45 265.27L316.26 266.14L319.31 266.98L322.37 267.99L324.65 268.9L327.28 270.16L329.64 271.54L331.64 272.97L333.47 274.55L335.11 276.27L336.62 278.18L337.98 280.26L339.23 282.56L340.36 285.1L341.38 287.86L342.31 290.89L343.16 294.25L343.93 297.96L344.63 302L345.27 306.49L345.86 311.46L346.39 316.89L346.86 322.79" fill="none" stroke="#3D3D99" stroke-width="1.0" stroke-linejoin="round" />
<path d="M356.66 194.21L357.17 200.04L357.72 205.22L358.32 209.94L358.99 214.21L359.72 218.15L360.53 221.73L361.42 224.96L362.4 227.92L363.48 230.59L364.67 233.03L365.97 235.23L367.41 237.24L369 239.07L370.73 240.73L372.64 242.23L374.76 243.61L377 244.82L379.46 245.92L382.16 246.92L385.11 247.83L388.16 248.62L391.97 249.43L396.55 250.23L401.13 250.88L406.47 251.5L411.81 252.01L417.91 252.49L424.01 252.89L439.27 253.65L458.34 254.29" fill="none" stroke="#3D3D99" stroke-width="1.0" stroke-linejoin="round" />
<path d="M351.5 322.79L351.5 194.21" fill="none" stroke="#3D3D99" stroke-width="0.85" stroke-linejoin="round" />
<path d="M250.66 262.71L269.73 263.35L284.99 264.11L291.09 264.51L297.19 264.99L302.53 265.5L307.87 266.12L312.45 266.77L317.03 267.57L320.84 268.38L323.89 269.17L326.84 270.08L329.54 271.08L332 272.18L334.24 273.39L336.36 274.77L338.27 276.27L340 277.93L341.59 279.76L343.03 281.77L344.33 283.97L345.52 286.41L346.6 289.08L347.58 292.04L348.47 295.27L349.28 298.85L350.01 302.79L350.68 307.06L351.28 311.78L351.83 316.96L352.34 322.79" fill="none" stroke="#993D71" stroke-width="1.0" stroke-linejoin="round" />
<path d="M362.14 194.21L362.61 200.11L363.14 205.54L363.73 210.51L364.37 215L365.07 219.04L365.84 222.75L366.69 226.11L367.62 229.14L368.64 231.9L369.77 234.44L371.02 236.74L372.38 238.82L373.89 240.73L375.53 242.45L377.36 244.03L379.36 245.46L381.72 246.84L384.35 248.1L386.63 249.01L389.69 250.02L392.74 250.86L396.55 251.73L400.37 252.44L404.18 253.03L408.76 253.63L414.1 254.21L420.2 254.75L426.3 255.19L440.79 255.98L458.34 256.64" fill="none" stroke="#993D71" stroke-width="1.0" stroke-linejoin="round" />
<path d="M357.5 322.79L357.5 194.21" fill="none" stroke="#993D71" stroke-width="0.85" stroke-linejoin="round" />
<path d="M250.66 304.48L458.34 212.52" fill="none" stroke="#998B3D" stroke-width="1.0" stroke-linejoin="round" />
<path d="M516.95 166.5L725.85 166.5" stroke="#000" stroke-width="0.34" fill="none"/>
<path d="M520.97 166.5L520.97 165" stroke="#000" stroke-width="0.3" fill="none"/>
<path d="M530.1 166.5L530.1 164" stroke="#000" stroke-width="0.3" fill="none"/>
<text x="530.4" y="175.6" font-family="'Liberation Serif', serif" font-size="10" text-anchor="middle"  >−1.0</text>
<path d="M539.23 166.5L539.23 165" stroke="#000" stroke-width="0.3" fill="none"/>
<path d="M548.36 166.5L548.36 165" stroke="#000" stroke-width="0.3" fill="none"/>
<path d="M557.49 166.5L557.49 165" stroke="#000" stroke-width="0.3" fill="none"/>
<path d="M566.62 166.5L566.62 165" stroke="#000" stroke-width="0.3" fill="none"/>
<path d="M575.75 166.5L575.75 164" stroke="#000" stroke-width="0.3" fill="none"/>
<text x="576.05" y="175.6" font-family="'Liberation Serif', serif" font-size="10" text-anchor="middle"  >−0.5</text>
<path d="M584.88 166.5L584.88 165" stroke="#000" stroke-width="0.3" fill="none"/>
<path d="M594.01 166.5L594.01 165" stroke="#000" stroke-width="0.3" fill="none"/>
<path d="M603.14 166.5L603.14 165" stroke="#000" stroke-width="0.3" fill="none"/>
<path d="M612.27 166.5L612.27 165" stroke="#000" stroke-width="0.3" fill="none"/>
<path d="M630.53 166.5L630.53 165" stroke="#000" stroke-width="0.3" fill="none"/>
<path d="M639.66 166.5L639.66 165" stroke="#000" stroke-width="0.3" fill="none"/>
<path d="M648.79 166.5L648.79 165" stroke="#000" stroke-width="0.3" fill="none"/>
<path d="M657.92 166.5L657.92 165" stroke="#000" stroke-width="0.3" fill="none"/>
<path d="M667.05 166.5L667.05 164" stroke="#000" stroke-width="0.3" fill="none"/>
<text x="666.65" y="175.6" font-family="'Liberation Serif', serif" font-size="10" text-anchor="middle"  >0.5</text>
<path d="M676.18 166.5L676.18 165" stroke="#000" stroke-width="0.3" fill="none"/>
<path d="M685.31 166.5L685.31 165" stroke="#000" stroke-width="0.3" fill="none"/>
<path d="M694.44 166.5L694.44 165" stroke="#000" stroke-width="0.3" fill="none"/>
<path d="M703.57 166.5L703.57 165" stroke="#000" stroke-width="0.3" fill="none"/>
<path d="M712.7 166.5L712.7 164" stroke="#000" stroke-width="0.3" fill="none"/>
<text x="712.3" y="175.6" font-family="'Liberation Serif', serif" font-size="10" text-anchor="middle"  >1.0</text>
<path d="M721.83 166.5L721.83 165" stroke="#000" stroke-width="0.3" fill="none"/>
<text x="735.05" y="168.7" font-family="'Liberation Serif', serif" font-size="9.5" text-anchor="middle" font-style="italic" style="fill:#222">ω</text>
<path d="M621.5 168.52L621.5 39.75" stroke="#000" stroke-width="0.27" fill="none"/>
<path d="M621.5 159.5L623 159.5" stroke="#000" stroke-width="0.3" fill="none"/>
<path d="M621.5 152.5L623 152.5" stroke="#000" stroke-width="0.3" fill="none"/>
<path d="M621.5 146.5L623 146.5" stroke="#000" stroke-width="0.3" fill="none"/>
<path d="M621.5 139.5L624 139.5" stroke="#000" stroke-width="0.3" fill="none"/>
<text x="619.1" y="141.8" font-family="'Liberation Serif', serif" font-size="10" text-anchor="end"  >0.2</text>
<path d="M621.5 133.5L623 133.5" stroke="#000" stroke-width="0.3" fill="none"/>
<path d="M621.5 126.5L623 126.5" stroke="#000" stroke-width="0.3" fill="none"/>
<path d="M621.5 120.5L623 120.5" stroke="#000" stroke-width="0.3" fill="none"/>
<path d="M621.5 113.5L624 113.5" stroke="#000" stroke-width="0.3" fill="none"/>
<text x="619.1" y="115.6" font-family="'Liberation Serif', serif" font-size="10" text-anchor="end"  >0.4</text>
<path d="M621.5 106.5L623 106.5" stroke="#000" stroke-width="0.3" fill="none"/>
<path d="M621.5 100.5L623 100.5" stroke="#000" stroke-width="0.3" fill="none"/>
<path d="M621.5 93.5L623 93.5" stroke="#000" stroke-width="0.3" fill="none"/>
<path d="M621.5 87.5L624 87.5" stroke="#000" stroke-width="0.3" fill="none"/>
<text x="619.1" y="89.4" font-family="'Liberation Serif', serif" font-size="10" text-anchor="end"  >0.6</text>
<path d="M621.5 80.5L623 80.5" stroke="#000" stroke-width="0.3" fill="none"/>
<path d="M621.5 74.5L623 74.5" stroke="#000" stroke-width="0.3" fill="none"/>
<path d="M621.5 67.5L623 67.5" stroke="#000" stroke-width="0.3" fill="none"/>
<path d="M621.5 61.5L624 61.5" stroke="#000" stroke-width="0.3" fill="none"/>
<text x="619.1" y="63.2" font-family="'Liberation Serif', serif" font-size="10" text-anchor="end"  >0.8</text>
<path d="M621.5 54.5L623 54.5" stroke="#000" stroke-width="0.3" fill="none"/>
<path d="M621.5 48.5L623 48.5" stroke="#000" stroke-width="0.3" fill="none"/>
<path d="M621.5 41.5L623 41.5" stroke="#000" stroke-width="0.3" fill="none"/>
<text x="609.75" y="33.5" font-family="'Liberation Serif', serif" font-size="10" font-style="italic">A</text>
<text transform="translate(615.4 34.6) scale(1.5 1)" font-family="'Liberation Serif', serif" font-size="6.2" font-style="italic" style="fill:#333">σ</text>
<text x="620.9" y="33.1" font-family="'Liberation Serif', serif" font-size="8.7">(</text>
<text x="623" y="33.5" font-family="'Liberation Serif', serif" font-size="10" font-style="italic">ω</text>
<text x="630.3" y="33.1" font-family="'Liberation Serif', serif" font-size="8.7">)</text>
<path d="M521.07 165.9L521.64 165.9L521.78 164.41L521.92 161.09L522.2 157.84L522.63 154.62L523.33 150.72L524.04 147.66L524.75 145.07L525.74 141.93L526.73 139.2L528.01 136.1L529.28 133.34L530.7 130.57L532.25 127.82L533.95 125.09L535.65 122.6L537.63 119.94L539.61 117.51L541.88 114.97L544.14 112.64L546.55 110.38L548.96 108.32L551.51 106.33L554.05 104.52L556.6 102.89L559.29 101.35L561.84 100.07L564.53 98.9L567.08 97.96L569.77 97.14L572.46 96.49L575.29 95.98L578.12 95.64L580.81 95.46L583.78 95.47L586.61 95.72L589.02 96.17L590.43 96.55L591.71 96.99L591.98 96.99L592.44 110.75L593.08 99.16L593.35 99.16L594.13 99.34L594.95 99.67L595.79 100.12L597.3 101.16L598.74 102.47L600.08 104L601.34 105.74L602.49 107.67L603.72 110.06L604.5 111.81L605.22 113.63L606.56 117.73L607.75 122.39L608.79 127.61L609.66 133.39L610.42 140.01L610.92 145.93L611.57 156.17L611.82 159.08L612.01 160.38L612.23 161.34L612.51 162.11L612.86 162.71L613.3 163.19L613.83 163.56L614.49 163.86L615.3 164.09L616.33 164.27L617.55 164.39L620.53 164.44L621.47 164.4L621.5 164.35L623.55 164.15L625.6 163.75L626.48 163.47L627.24 163.13L627.87 162.75L628.43 162.29L628.97 161.67L629.41 160.97L629.79 160.11L630.1 159.11L630.58 156.6L630.92 153L631.27 145.1L632.03 110.76L632.31 101.19L632.66 92.31L633.07 84.58L633.54 78.13L634.11 72.68L634.74 68.51L635.11 66.67L635.49 65.2L635.93 63.84L636.41 62.72L636.91 61.83L637.48 61.1L638.08 60.58L638.74 60.22L639.31 60.05L640.69 59.83L641.54 59.83L642.49 59.96L644.73 60.54L648.89 61.88L650.11 62.33L650.74 42.11L651.02 66.15L652.19 66.58L653.47 67.16L657.01 69.08L663.39 72.88L668.07 75.92L671.61 78.47L675.16 81.25L679.27 84.7L683.66 88.6L687.63 92.32L691.31 95.99L694.57 99.49L697.69 103.09L700.67 106.84L703.36 110.54L705.91 114.37L708.32 118.36L709.74 120.91L711.16 123.65L712.43 126.31L713.71 129.2L714.84 132L715.84 134.68L716.83 137.63L717.68 140.46L718.95 145.47L719.95 150.5L720.37 153.28L720.8 156.89L721.08 160.51L721.22 164.19L721.36 165.9L721.93 165.9" fill="none" stroke="#3D3D99" stroke-width="1.0" stroke-linejoin="round" />
<path d="M521.07 165.9L521.64 165.9L521.78 164.19L521.92 160.51L522.2 156.89L522.63 153.28L523.05 150.5L524.05 145.47L525.32 140.46L526.17 137.63L527.16 134.68L528.16 132L529.29 129.2L530.57 126.31L531.84 123.65L533.26 120.91L534.68 118.36L537.09 114.37L539.64 110.54L542.33 106.84L545.31 103.09L548.43 99.49L551.69 95.99L555.37 92.32L559.34 88.6L563.73 84.7L567.84 81.25L571.39 78.47L574.93 75.92L579.61 72.88L585.99 69.08L589.53 67.16L590.81 66.58L591.98 66.15L592.26 42.11L592.89 62.33L594.11 61.88L598.27 60.54L600.51 59.96L601.46 59.83L602.31 59.83L603.69 60.05L604.26 60.22L604.92 60.58L605.52 61.1L606.09 61.83L606.59 62.72L607.07 63.84L607.51 65.2L607.89 66.67L608.26 68.51L608.89 72.68L609.46 78.13L609.93 84.58L610.34 92.31L610.69 101.19L610.97 110.76L611.73 145.1L612.08 153L612.42 156.6L612.9 159.11L613.21 160.11L613.59 160.97L614.03 161.67L614.57 162.29L615.13 162.75L615.76 163.13L616.52 163.47L617.4 163.75L619.45 164.15L621.5 164.35L621.53 164.4L622.47 164.44L625.45 164.39L626.67 164.27L627.7 164.09L628.51 163.86L629.17 163.56L629.7 163.19L630.14 162.71L630.49 162.11L630.77 161.34L630.99 160.38L631.18 159.08L631.43 156.17L632.08 145.93L632.58 140.01L633.34 133.39L634.21 127.61L635.25 122.39L636.44 117.73L637.78 113.63L638.5 111.81L639.28 110.06L640.51 107.67L641.66 105.74L642.92 104L644.26 102.47L645.7 101.16L647.21 100.12L648.05 99.67L648.87 99.34L649.65 99.16L649.92 99.16L650.56 110.75L651.02 96.99L651.29 96.99L652.57 96.55L653.98 96.17L656.39 95.72L659.22 95.47L662.19 95.46L664.88 95.64L667.71 95.98L670.54 96.49L673.23 97.14L675.92 97.96L678.47 98.9L681.16 100.07L683.71 101.35L686.4 102.89L688.95 104.52L691.49 106.33L694.04 108.32L696.45 110.38L698.86 112.64L701.12 114.97L703.39 117.51L705.37 119.94L707.35 122.6L709.05 125.09L710.75 127.82L712.3 130.57L713.72 133.34L714.99 136.1L716.27 139.2L717.26 141.93L718.25 145.07L718.96 147.66L719.67 150.72L720.37 154.62L720.8 157.84L721.08 161.09L721.22 164.41L721.36 165.9L721.93 165.9" fill="none" stroke="#993D71" stroke-width="1.0" stroke-linejoin="round" />
<path d="M513.73 257.5L730.17 257.5" stroke="#000" stroke-width="0.34" fill="none"/>
<path d="M517.89 257.5L517.89 256" stroke="#000" stroke-width="0.3" fill="none"/>
<path d="M527.35 257.5L527.35 255" stroke="#000" stroke-width="0.3" fill="none"/>
<text x="527.65" y="267" font-family="'Liberation Serif', serif" font-size="10" text-anchor="middle"  >−1.0</text>
<path d="M536.81 257.5L536.81 256" stroke="#000" stroke-width="0.3" fill="none"/>
<path d="M546.27 257.5L546.27 256" stroke="#000" stroke-width="0.3" fill="none"/>
<path d="M555.73 257.5L555.73 256" stroke="#000" stroke-width="0.3" fill="none"/>
<path d="M565.19 257.5L565.19 256" stroke="#000" stroke-width="0.3" fill="none"/>
<path d="M574.65 257.5L574.65 255" stroke="#000" stroke-width="0.3" fill="none"/>
<text x="574.95" y="267" font-family="'Liberation Serif', serif" font-size="10" text-anchor="middle"  >−0.5</text>
<path d="M584.11 257.5L584.11 256" stroke="#000" stroke-width="0.3" fill="none"/>
<path d="M593.57 257.5L593.57 256" stroke="#000" stroke-width="0.3" fill="none"/>
<path d="M603.03 257.5L603.03 256" stroke="#000" stroke-width="0.3" fill="none"/>
<path d="M612.49 257.5L612.49 256" stroke="#000" stroke-width="0.3" fill="none"/>
<path d="M631.41 257.5L631.41 256" stroke="#000" stroke-width="0.3" fill="none"/>
<path d="M640.87 257.5L640.87 256" stroke="#000" stroke-width="0.3" fill="none"/>
<path d="M650.33 257.5L650.33 256" stroke="#000" stroke-width="0.3" fill="none"/>
<path d="M659.79 257.5L659.79 256" stroke="#000" stroke-width="0.3" fill="none"/>
<path d="M669.25 257.5L669.25 255" stroke="#000" stroke-width="0.3" fill="none"/>
<text x="668.85" y="267" font-family="'Liberation Serif', serif" font-size="10" text-anchor="middle"  >0.5</text>
<path d="M678.71 257.5L678.71 256" stroke="#000" stroke-width="0.3" fill="none"/>
<path d="M688.17 257.5L688.17 256" stroke="#000" stroke-width="0.3" fill="none"/>
<path d="M697.63 257.5L697.63 256" stroke="#000" stroke-width="0.3" fill="none"/>
<path d="M707.09 257.5L707.09 256" stroke="#000" stroke-width="0.3" fill="none"/>
<path d="M716.55 257.5L716.55 255" stroke="#000" stroke-width="0.3" fill="none"/>
<text x="716.15" y="267" font-family="'Liberation Serif', serif" font-size="10" text-anchor="middle"  >1.0</text>
<path d="M726.01 257.5L726.01 256" stroke="#000" stroke-width="0.3" fill="none"/>
<text x="739.37" y="259.7" font-family="'Liberation Serif', serif" font-size="9.5" text-anchor="middle" font-style="italic" style="fill:#222">ω</text>
<path d="M621.5 324.86L621.5 191.67" stroke="#000" stroke-width="0.27" fill="none"/>
<path d="M621.5 322.5L623 322.5" stroke="#000" stroke-width="0.3" fill="none"/>
<path d="M621.5 318.5L623 318.5" stroke="#000" stroke-width="0.3" fill="none"/>
<path d="M621.5 314.5L624 314.5" stroke="#000" stroke-width="0.3" fill="none"/>
<text x="619.35" y="317" font-family="'Liberation Serif', serif" font-size="10" text-anchor="end"  >−1.5</text>
<path d="M621.5 310.5L623 310.5" stroke="#000" stroke-width="0.3" fill="none"/>
<path d="M621.5 307.5L623 307.5" stroke="#000" stroke-width="0.3" fill="none"/>
<path d="M621.5 303.5L623 303.5" stroke="#000" stroke-width="0.3" fill="none"/>
<path d="M621.5 299.5L623 299.5" stroke="#000" stroke-width="0.3" fill="none"/>
<path d="M621.5 295.5L624 295.5" stroke="#000" stroke-width="0.3" fill="none"/>
<text x="619.35" y="298" font-family="'Liberation Serif', serif" font-size="10" text-anchor="end"  >−1.0</text>
<path d="M621.5 291.5L623 291.5" stroke="#000" stroke-width="0.3" fill="none"/>
<path d="M621.5 288.5L623 288.5" stroke="#000" stroke-width="0.3" fill="none"/>
<path d="M621.5 284.5L623 284.5" stroke="#000" stroke-width="0.3" fill="none"/>
<path d="M621.5 280.5L623 280.5" stroke="#000" stroke-width="0.3" fill="none"/>
<path d="M621.5 276.5L624 276.5" stroke="#000" stroke-width="0.3" fill="none"/>
<text x="619.35" y="279" font-family="'Liberation Serif', serif" font-size="10" text-anchor="end"  >−0.5</text>
<path d="M621.5 272.5L623 272.5" stroke="#000" stroke-width="0.3" fill="none"/>
<path d="M621.5 269.5L623 269.5" stroke="#000" stroke-width="0.3" fill="none"/>
<path d="M621.5 265.5L623 265.5" stroke="#000" stroke-width="0.3" fill="none"/>
<path d="M621.5 261.5L623 261.5" stroke="#000" stroke-width="0.3" fill="none"/>
<path d="M621.5 253.5L623 253.5" stroke="#000" stroke-width="0.3" fill="none"/>
<path d="M621.5 250.5L623 250.5" stroke="#000" stroke-width="0.3" fill="none"/>
<path d="M621.5 246.5L623 246.5" stroke="#000" stroke-width="0.3" fill="none"/>
<path d="M621.5 242.5L623 242.5" stroke="#000" stroke-width="0.3" fill="none"/>
<path d="M621.5 238.5L624 238.5" stroke="#000" stroke-width="0.3" fill="none"/>
<text x="620.25" y="241.5" font-family="'Liberation Serif', serif" font-size="10" text-anchor="end"  >0.5</text>
<path d="M621.5 234.5L623 234.5" stroke="#000" stroke-width="0.3" fill="none"/>
<path d="M621.5 231.5L623 231.5" stroke="#000" stroke-width="0.3" fill="none"/>
<path d="M621.5 227.5L623 227.5" stroke="#000" stroke-width="0.3" fill="none"/>
<path d="M621.5 223.5L623 223.5" stroke="#000" stroke-width="0.3" fill="none"/>
<path d="M621.5 219.5L624 219.5" stroke="#000" stroke-width="0.3" fill="none"/>
<text x="620.25" y="222.5" font-family="'Liberation Serif', serif" font-size="10" text-anchor="end"  >1.0</text>
<path d="M621.5 215.5L623 215.5" stroke="#000" stroke-width="0.3" fill="none"/>
<path d="M621.5 212.5L623 212.5" stroke="#000" stroke-width="0.3" fill="none"/>
<path d="M621.5 208.5L623 208.5" stroke="#000" stroke-width="0.3" fill="none"/>
<path d="M621.5 204.5L623 204.5" stroke="#000" stroke-width="0.3" fill="none"/>
<path d="M621.5 200.5L624 200.5" stroke="#000" stroke-width="0.3" fill="none"/>
<text x="620.25" y="203.5" font-family="'Liberation Serif', serif" font-size="10" text-anchor="end"  >1.5</text>
<path d="M621.5 196.5L623 196.5" stroke="#000" stroke-width="0.3" fill="none"/>
<path d="M621.5 193.5L623 193.5" stroke="#000" stroke-width="0.3" fill="none"/>
<text x="611.05" y="184.3" font-family="'Liberation Serif', serif" font-size="10">Σ</text>
<text transform="translate(616.25 185.4) scale(1.7 1)" font-family="'Liberation Serif', serif" font-size="6.2" font-style="italic" style="fill:#333">σ</text>
<text x="622.85" y="183.9" font-family="'Liberation Serif', serif" font-size="8.7">(</text>
<text x="624.95" y="184.3" font-family="'Liberation Serif', serif" font-size="10" font-style="italic">ω</text>
<text x="632.25" y="183.9" font-family="'Liberation Serif', serif" font-size="8.7">)</text>
<path d="M517.89 258.94L534.71 259.68L541.59 260.09L548.47 260.57L554.58 261.09L559.93 261.64L564.52 262.2L569.11 262.87L572.93 263.53L576.75 264.32L580.57 265.29L583.63 266.22L586.69 267.35L588.98 268.36L591.28 269.56L593.57 271L595.52 272.47L597.32 274.09L598.96 275.88L600.46 277.82L601.82 279.95L603.07 282.27L604.23 284.86L605.27 287.65L606.23 290.76L607.1 294.12L607.9 297.8L608.62 301.79L609.28 306.2L609.88 311.02L610.43 316.25L610.94 322.01" fill="none" stroke="#3D3D99" stroke-width="1.0" stroke-linejoin="round" />
<path d="M622 193.19L622.55 198.58L623.15 203.58L623.81 208.12L624.55 212.33L625.35 216.1L626.24 219.6L627.2 222.75L628.26 225.63L629.42 228.24L630.68 230.62L632.09 232.81L633.62 234.8L635.28 236.6L637.12 238.25L639.13 239.75L641.34 241.12L643.78 242.38L646.45 243.53L649.4 244.58L652.62 245.53L656.45 246.46L660.27 247.23L664.09 247.88L668.68 248.53L674.03 249.16L679.38 249.68L685.49 250.18L692.37 250.64L707.66 251.43L726.01 252.08" fill="none" stroke="#3D3D99" stroke-width="1.0" stroke-linejoin="round" />
<path d="M616.27 322.01L616.27 193.19" fill="none" stroke="#3D3D99" stroke-width="0.85" stroke-linejoin="round" />
<path d="M517.89 263.12L536.24 263.77L551.53 264.56L558.41 265.02L564.52 265.52L569.87 266.04L575.22 266.67L579.81 267.32L583.63 267.97L587.45 268.74L591.28 269.67L594.5 270.62L597.45 271.67L600.12 272.82L602.56 274.08L604.77 275.45L606.78 276.95L608.62 278.6L610.28 280.4L611.81 282.39L613.22 284.58L614.48 286.96L615.64 289.57L616.7 292.45L617.66 295.6L618.55 299.1L619.35 302.87L620.09 307.08L620.75 311.62L621.35 316.62L621.9 322.01" fill="none" stroke="#993D71" stroke-width="1.0" stroke-linejoin="round" />
<path d="M632.96 193.19L633.47 198.95L634.02 204.18L634.62 209L635.28 213.41L636 217.4L636.8 221.08L637.67 224.44L638.63 227.55L639.67 230.34L640.83 232.93L642.08 235.25L643.44 237.38L644.94 239.32L646.58 241.11L648.38 242.73L650.33 244.21L652.62 245.64L654.92 246.84L657.21 247.85L660.27 248.98L663.33 249.91L667.15 250.88L670.97 251.67L674.79 252.33L679.38 253L683.97 253.56L689.32 254.11L695.43 254.63L702.31 255.11L709.19 255.52L726.01 256.26" fill="none" stroke="#993D71" stroke-width="1.0" stroke-linejoin="round" />
<path d="M627.63 322.01L627.63 193.19" fill="none" stroke="#993D71" stroke-width="0.85" stroke-linejoin="round" />
<path d="M517.89 299.4L726.01 215.8" fill="none" stroke="#998B3D" stroke-width="1.0" stroke-linejoin="round" />
</svg>
</body></html>
